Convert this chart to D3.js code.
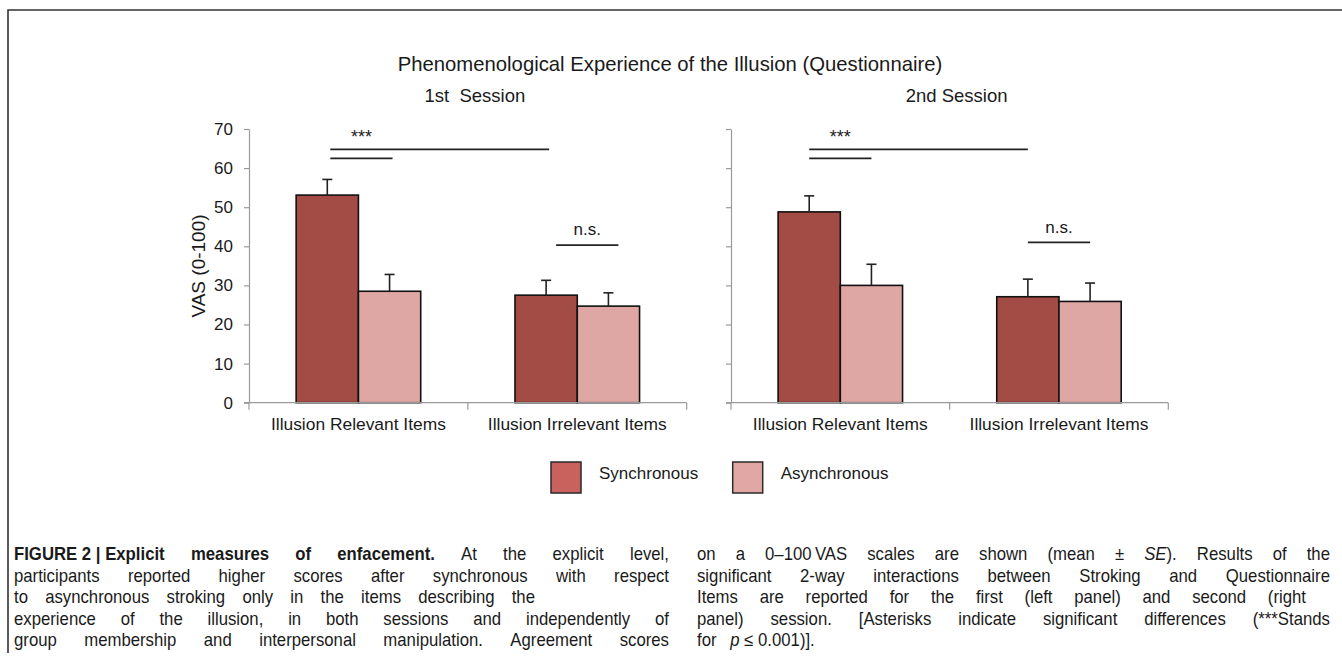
<!DOCTYPE html>
<html>
<head>
<meta charset="utf-8">
<script src="https://d3js.org/d3.v7.min.js"></script>
<style>
    body { margin: 0; background: #fff; }
    svg text { font-family: "Liberation Sans", Arial, sans-serif; fill: #1a1a1a; }
</style>
</head>
<body>
<svg width="1342" height="662"></svg>
<script>
    // ---- data ----
    var categories = ["Illusion Relevant Items", "Illusion Irrelevant Items"];
    var series = ["Synchronous", "Asynchronous"];
    var sessionTitles = ["1st  Session", "2nd Session"];
    var yTicks = [0, 10, 20, 30, 40, 50, 60, 70];

    // [category][series]
    var session1Mean = [[53.1, 28.5], [27.5, 24.7]];
    var session1SE   = [[4.0, 4.3], [3.8, 3.4]];
    var session2Mean = [[48.8, 30.0], [27.1, 25.9]];
    var session2SE   = [[4.1, 5.4], [4.5, 4.7]];

    // brackets: from [cat, series] to [cat, series] at height y (VAS units)
    var session1Brackets = [
        {from: [0, 0], to: [1, 0], y: 64.8, dx: 3},
        {from: [0, 0], to: [0, 1], y: 62.5, dx: 3},
        {from: [1, 0], to: [1, 1], y: 40.3, dx: 10}
    ];
    var session2Brackets = [
        {from: [0, 0], to: [1, 0], y: 64.8, dx: 0},
        {from: [0, 0], to: [0, 1], y: 62.5, dx: 0},
        {from: [1, 0], to: [1, 1], y: 41.0, dx: 0}
    ];
    var session1Labels = [{text: "***", bracket: 1, y: 66.4}, {text: "n.s.", bracket: 2, y: 42.9}];
    var session2Labels = [{text: "***", bracket: 1, y: 66.4}, {text: "n.s.", bracket: 2, y: 43.5}];

    var barColors = ["#a34b45", "#dfa7a4"];
    var legendColors = ["#c9625c", "#e0a7a5"];

    var captionLeft = [
        "~FIGURE\u00a02\u00a0|\u00a0Explicit~ ~measures~ ~of~ ~enfacement.~ At the explicit level,",
        "participants reported higher scores after synchronous with respect",
        "to asynchronous stroking only in the items describing the",
        "experience of the illusion, in both sessions and independently of",
        "group membership and interpersonal manipulation. Agreement scores"
    ];
    var captionRight = [
        "on a 0\u2013100\u2009VAS scales are shown (mean \u00b1 _SE_). Results of the",
        "significant 2-way interactions between Stroking and Questionnaire",
        "Items are reported for the first (left panel) and second (right",
        "panel) session. [Asterisks indicate significant differences (***Stands",
        "for\u00a0\u00a0 _p_\u00a0\u2264 0.001)]."
    ];
    var captionLeftEnds = [669, 669, 535, 669, 669];
    var captionRightEnds = [1330, 1330, 1306, 1330, null];

    // ---- layout ----
    var svg = d3.select("svg");
    var y = d3.scaleLinear().domain([0, 70]).range([402.7, 129]);
    var panelRanges = [[249, 686.7], [731, 1168.3]];

    // frame
    svg.append("path")
        .attr("d", "M8,653V10H1342")
        .attr("fill", "none")
        .attr("stroke", "#333")
        .attr("stroke-width", 1.6);

    svg.append("text")
        .attr("x", 670).attr("y", 71)
        .attr("text-anchor", "middle")
        .style("font-size", "20.3px")
        .text("Phenomenological Experience of the Illusion (Questionnaire)");

    function drawPanel(idx, means, ses, brackets, labels) {
        var r = panelRanges[idx];
        var g = svg.append("g");
        var x0 = d3.scaleBand().domain(categories).range(r).padding(0);
        var x1 = d3.scaleBand().domain(series).range([0, x0.bandwidth()])
            .paddingInner(0).paddingOuter(0.757);

        function barCenter(ci, si) {
            return x0(categories[ci]) + x1(series[si]) + x1.bandwidth() / 2;
        }

        // y axis
        var yAxis = d3.axisLeft(y).tickValues(yTicks).tickSize(5).tickSizeOuter(0).tickPadding(11);
        var ya = g.append("g").attr("transform", "translate(" + r[0] + ",0)").call(yAxis);
        ya.select(".domain").attr("stroke", "#9a9a9a").attr("stroke-width", 1.2);
        ya.selectAll(".tick line").attr("stroke", "#9a9a9a").attr("stroke-width", 1.2);
        ya.selectAll(".tick text")
            .style("font-size", "17px")
            .style("font-family", "'Liberation Sans', Arial, sans-serif")
            .attr("fill", "#1a1a1a");
        if (idx === 1) ya.selectAll(".tick text").remove();

        // bars
        var rows = [];
        categories.forEach(function(c, ci) {
            series.forEach(function(s, si) {
                rows.push({ci: ci, si: si, v: means[ci][si], se: ses[ci][si]});
            });
        });

        g.selectAll(".bar").data(rows).enter()
            .append("rect")
            .attr("class", "bar")
            .attr("x", function(d) { return x0(categories[d.ci]) + x1(series[d.si]); })
            .attr("y", function(d) { return y(d.v); })
            .attr("width", x1.bandwidth())
            .attr("height", function(d) { return y(0) - y(d.v); })
            .attr("fill", function(d) { return barColors[d.si]; })
            .attr("stroke", "#111")
            .attr("stroke-width", 1.6);

        // error bars (upper only)
        var eb = g.selectAll(".err").data(rows).enter().append("g").attr("class", "err")
            .attr("stroke", "#222").attr("stroke-width", 1.6);
        eb.append("line")
            .attr("x1", function(d) { return barCenter(d.ci, d.si); })
            .attr("x2", function(d) { return barCenter(d.ci, d.si); })
            .attr("y1", function(d) { return y(d.v); })
            .attr("y2", function(d) { return y(d.v + d.se); });
        eb.append("line")
            .attr("x1", function(d) { return barCenter(d.ci, d.si) - 5; })
            .attr("x2", function(d) { return barCenter(d.ci, d.si) + 5; })
            .attr("y1", function(d) { return y(d.v + d.se); })
            .attr("y2", function(d) { return y(d.v + d.se); });

        // x axis
        var xa = g.append("g").attr("transform", "translate(0," + y(0) + ")");
        xa.append("line").attr("x1", r[0] - 5).attr("x2", r[1])
            .attr("stroke", "#9a9a9a").attr("stroke-width", 1.2);
        var bounds = categories.map(function(c) { return x0(c); }).concat([r[1]]);
        xa.selectAll(".xt").data(bounds).enter().append("line")
            .attr("x1", function(d) { return d; }).attr("x2", function(d) { return d; })
            .attr("y1", 0).attr("y2", 7)
            .attr("stroke", "#9a9a9a").attr("stroke-width", 1.2);
        xa.selectAll(".xl").data(categories).enter().append("text")
            .attr("x", function(d) { return x0(d) + x0.bandwidth() / 2; })
            .attr("y", 27.5)
            .attr("text-anchor", "middle")
            .style("font-size", "17.4px")
            .text(function(d) { return d; });

        // significance brackets
        g.selectAll(".sig").data(brackets).enter().append("line")
            .attr("x1", function(d) { return barCenter(d.from[0], d.from[1]) + d.dx; })
            .attr("x2", function(d) { return barCenter(d.to[0], d.to[1]) + d.dx; })
            .attr("y1", function(d) { return y(d.y); })
            .attr("y2", function(d) { return y(d.y); })
            .attr("stroke", "#222").attr("stroke-width", 1.6);

        g.selectAll(".siglab").data(labels).enter().append("text")
            .attr("x", function(d) {
                var b = brackets[d.bracket];
                return (barCenter(b.from[0], b.from[1]) + barCenter(b.to[0], b.to[1])) / 2 + b.dx;
            })
            .attr("y", function(d) { return y(d.y); })
            .attr("text-anchor", "middle")
            .style("font-size", function(d) { return d.text === "***" ? "18px" : "17px"; })
            .text(function(d) { return d.text; });

        // session title
        g.append("text")
            .attr("x", (r[0] + r[1]) / 2 + 7)
            .attr("y", 101.5)
            .attr("text-anchor", "middle")
            .style("font-size", "18.5px")
            .style("white-space", "pre")
            .text(sessionTitles[idx]);
    }

    drawPanel(0, session1Mean, session1SE, session1Brackets, session1Labels);
    drawPanel(1, session2Mean, session2SE, session2Brackets, session2Labels);

    // y axis title
    svg.append("text")
        .attr("transform", "translate(205,266) rotate(-90)")
        .attr("text-anchor", "middle")
        .style("font-size", "19px")
        .text("VAS (0-100)");

    // legend
    var legend = svg.append("g").selectAll("g").data(series).enter().append("g")
        .attr("transform", function(d, i) { return "translate(" + [551, 732.7][i] + ",462)"; });
    legend.append("rect")
        .attr("width", 30).attr("height", 31)
        .attr("fill", function(d, i) { return legendColors[i]; })
        .attr("stroke", "#2a2a2a").attr("stroke-width", 1.5);
    legend.append("text")
        .attr("x", 48).attr("y", 17)
        .style("font-size", "17px")
        .text(function(d) { return d; });

    // caption: narrow face faked with a horizontal squeeze, justified per line
    var capScale = 0.93;
    function drawCaption(lines, x0, ends) {
        var g = svg.append("g").style("font-size", "18px");
        lines.forEach(function(line, li) {
            var yy = 560 + li * 21.5;
            var words = line.split(" ");
            var nodes = words.map(function(w) {
                var t = g.append("text").attr("fill", "#222");
                w.split(/(~[^~]*~|_[^_]*_)/).forEach(function(seg) {
                    if (!seg) return;
                    var ts = t.append("tspan").style("white-space", "pre");
                    if (seg[0] === "~") ts.style("font-weight", "bold").text(seg.slice(1, -1));
                    else if (seg[0] === "_") ts.style("font-style", "italic").text(seg.slice(1, -1));
                    else ts.text(seg);
                });
                return t;
            });
            var widths = nodes.map(function(n) { return n.node().getComputedTextLength() * capScale; });
            var total = d3.sum(widths);
            var gap = ends[li] ? (ends[li] - x0 - total) / (nodes.length - 1) : 4.5;
            var xx = x0;
            nodes.forEach(function(n, i) {
                n.attr("transform", "translate(" + xx + "," + yy + ") scale(" + capScale + ",1)");
                xx += widths[i] + gap;
            });
        });
    }
    drawCaption(captionLeft, 14, captionLeftEnds);
    drawCaption(captionRight, 697, captionRightEnds);
</script>
</body>
</html>
